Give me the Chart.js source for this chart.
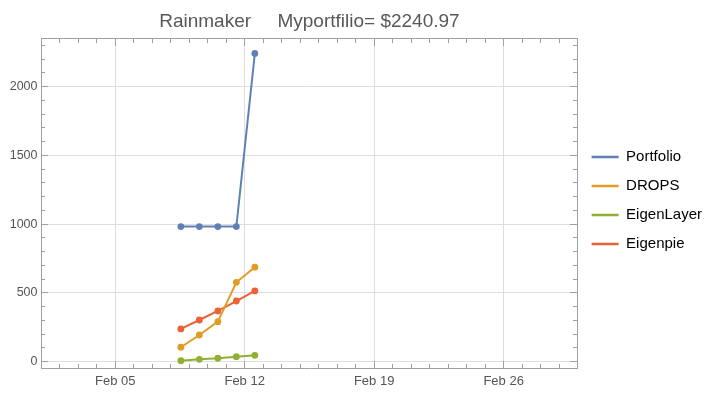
<!DOCTYPE html>
<html>
<head>
<meta charset="utf-8">
<script src="https://cdn.jsdelivr.net/npm/chart.js@4.4.1/dist/chart.umd.min.js"></script>
<style>
  html, body { margin: 0; padding: 0; background: #fff; }
</style>
</head>
<body>
<canvas id="chart1" width="720" height="398"></canvas>
<script>
// day of February 2024 (samples taken around 13:00)
var days = [8.55, 9.55, 10.55, 11.55, 12.55];
var portfolio = [982, 982, 982, 982, 2241];
var drops = [105, 194, 291, 577, 687];
var eigenLayer = [7, 17, 25, 36, 46];
var eigenpie = [238, 303, 369, 441, 514];

var seriesNames = ['Portfolio', 'DROPS', 'EigenLayer', 'Eigenpie'];
var seriesColors = ['#5e81b5', '#e19c24', '#8fb032', '#eb6235'];
var xLabelDays = [5, 12, 19, 26];      // Feb 05, Feb 12 ...
var yLabelValues = [0, 500, 1000, 1500, 2000];

var xMin = 1, xMax = 30;               // Feb 01 .. Mar 01
var yMin = -46, yMax = 2353;

var FONT = '"Liberation Sans", Arial, Helvetica, sans-serif';
var FRAME_COLOR = '#a0a0a0';
var GRID_COLOR = '#dedede';
var NONE = 'rgba(0,0,0,0)';

// minor ticks: every day / every 100
var xTickDays = [];
for (var d = 2; d < xMax; d++) xTickDays.push(d);
var yTickValues = [];
for (var t = 0; t < yMax; t += 100) yTickValues.push(t);

function toPoints(vals) {
    var pts = [];
    for (var i = 0; i < days.length; i++) {
        pts.push({x: days[i], y: vals[i]});
    }
    return pts;
}

var allSeries = [portfolio, drops, eigenLayer, eigenpie];
var datasets = [];
for (var i = 0; i < allSeries.length; i++) {
    datasets.push({
        label: seriesNames[i],
        data: toPoints(allSeries[i]),
        xAxisID: 'x',
        yAxisID: 'y',
        borderColor: seriesColors[i],
        backgroundColor: seriesColors[i],
        pointBackgroundColor: seriesColors[i],
        pointBorderColor: seriesColors[i],
        borderWidth: 2,
        pointRadius: 3.4,
        pointBorderWidth: 0,
        tension: 0
    });
}

function dayLabel(v) {
    if (xLabelDays.indexOf(v) < 0) return '';
    return 'Feb ' + (v < 10 ? '0' + v : v);
}
function yLabel(v) {
    return yLabelValues.indexOf(v) < 0 ? '' : String(v);
}
function xGrid(ctx) {
    return (ctx.tick && xLabelDays.indexOf(ctx.tick.value) >= 0) ? GRID_COLOR : NONE;
}
function yGrid(ctx) {
    return (ctx.tick && yLabelValues.indexOf(ctx.tick.value) >= 0) ? GRID_COLOR : NONE;
}
function fixedTicks(values) {
    return function (scale) {
        scale.ticks = values.map(function (v) { return {value: v}; });
    };
}

// axes that only draw the inward tick marks (and the frame line) along one side
function tickAxis(axis, where, values, len, withBorder) {
    var isX = axis === 'x';
    return {
        type: 'linear',
        axis: axis,
        position: where,
        min: isX ? xMin : yMin,
        max: isX ? xMax : yMax,
        afterBuildTicks: fixedTicks(values),
        border: {display: withBorder, color: FRAME_COLOR, width: 1},
        grid: {drawOnChartArea: false, drawTicks: true, tickLength: len, tickColor: FRAME_COLOR},
        ticks: {display: false}
    };
}

var ctx = document.getElementById('chart1').getContext('2d');
var chart = new Chart(ctx, {
    type: 'line',
    data: {datasets: datasets},
    options: {
        animation: false,
        responsive: false,
        devicePixelRatio: 1,
        layout: {padding: {left: 6, right: 8, top: 0, bottom: 4}},
        plugins: {
            title: {
                display: true,
                text: 'Rainmaker     Myportfilio= $2240.97',
                fullSize: false,
                color: '#585858',
                font: {family: FONT, size: 19, weight: 'normal'},
                padding: {top: 10.6, bottom: 4.6}
            },
            legend: {
                display: true,
                position: 'right',
                align: 'center',
                maxWidth: 140,
                // empty title only nudges the entries down a little
                title: {display: true, text: ' ', padding: 0, color: '#000', font: {size: 6}},
                labels: {
                    usePointStyle: true,
                    pointStyleWidth: 27,
                    padding: 14,
                    color: '#000',
                    font: {family: FONT, size: 15},
                    generateLabels: function (chart) {
                        return seriesNames.map(function (name, i) {
                            return {
                                text: name,
                                fontColor: '#000',
                                fillStyle: seriesColors[i],
                                strokeStyle: seriesColors[i],
                                lineWidth: 2.5,
                                pointStyle: 'line',
                                datasetIndex: i,
                                hidden: false
                            };
                        });
                    }
                }
            },
            tooltip: {enabled: false}
        },
        scales: {
            x: {
                type: 'linear',
                position: 'bottom',
                min: xMin,
                max: xMax,
                afterBuildTicks: fixedTicks(xTickDays),
                border: {display: true, color: FRAME_COLOR, width: 1},
                grid: {color: xGrid, drawTicks: false},
                ticks: {
                    autoSkip: false,
                    maxRotation: 0,
                    padding: 5.2,
                    color: '#555',
                    font: {family: FONT, size: 13},
                    callback: dayLabel
                }
            },
            y: {
                type: 'linear',
                position: 'left',
                min: yMin,
                max: yMax,
                afterBuildTicks: fixedTicks(yTickValues),
                border: {display: true, color: FRAME_COLOR, width: 1},
                grid: {color: yGrid, drawTicks: false},
                ticks: {
                    autoSkip: false,
                    padding: 3.7,
                    color: '#555',
                    font: {family: FONT, size: 12.5},
                    callback: yLabel
                }
            },
            // frame sides and inward ticks
            xBotMinor: tickAxis('x', {y: yMin}, xTickDays, -4, false),
            xBotMajor: tickAxis('x', {y: yMin}, xLabelDays, -7, false),
            xTopMinor: tickAxis('x', {y: yMax}, xTickDays, 4, true),
            xTopMajor: tickAxis('x', {y: yMax}, xLabelDays, 7, true),
            yLeftMinor: tickAxis('y', {x: xMin}, yTickValues, -4, false),
            yLeftMajor: tickAxis('y', {x: xMin}, yLabelValues, -7, false),
            yRightMinor: tickAxis('y', {x: xMax}, yTickValues, 4, true),
            yRightMajor: tickAxis('y', {x: xMax}, yLabelValues, 7, true)
        }
    }
});
</script>
</body>
</html>
